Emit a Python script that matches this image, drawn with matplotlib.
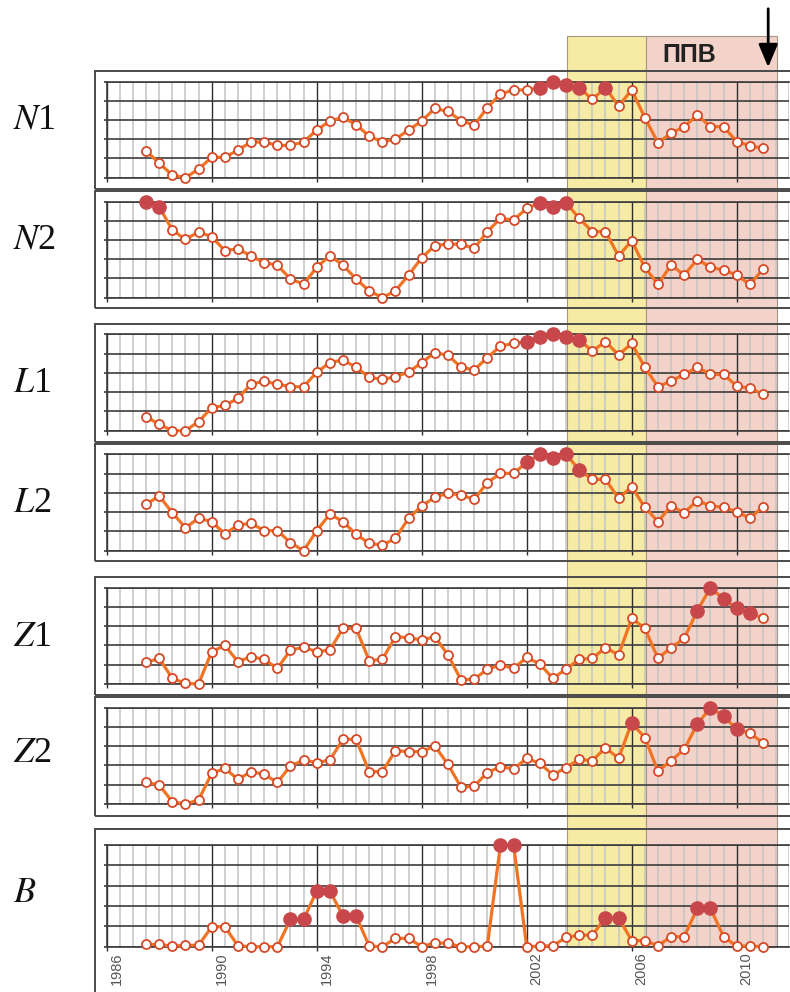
import numpy as np
import matplotlib
matplotlib.use("Agg")
import matplotlib.pyplot as plt
from matplotlib.patches import Rectangle
from matplotlib.transforms import blended_transform_factory, ScaledTranslation

plt.rcParams['mathtext.fontset'] = 'stix'

# half-year points 1987.5 ... 2011.0
years = np.arange(1987.5, 2011.01, 0.5)

n1 = [1.41, 0.75, 0.14, 0.0, 0.45, 1.06, 1.06, 1.44, 1.86, 1.86, 1.68, 1.68, 1.86, 2.48, 2.95, 3.14, 2.76, 2.17, 1.86, 2.01, 2.48, 2.95, 3.61, 3.45,
      2.97, 2.74, 3.65, 4.36, 4.57, 4.57, 4.69, 5.0, 4.83, 4.69, 4.08, 4.69, 3.73, 4.57, 3.13, 1.82, 2.31, 2.66, 3.26, 2.66, 2.66, 1.88, 1.67, 1.53]
n2 = [5.0, 4.74, 3.52, 3.04, 3.42, 3.18, 2.45, 2.55, 2.17, 1.82, 1.70, 0.97, 0.71, 1.58, 2.19, 1.70, 0.97, 0.36, 0.0, 0.36, 1.18, 2.08, 2.71, 2.80,
      2.78, 2.57, 3.44, 4.13, 4.05, 4.65, 4.95, 4.74, 4.95, 4.13, 3.44, 3.44, 2.17, 2.97, 1.58, 0.69, 1.70, 1.18, 2.0, 1.58, 1.44, 1.18, 0.69, 1.48]
l1 = [0.73, 0.33, 0.0, 0.0, 0.47, 1.19, 1.31, 1.68, 2.42, 2.56, 2.42, 2.28, 2.28, 3.03, 3.53, 3.67, 3.29, 2.77, 2.66, 2.80, 3.04, 3.53, 4.05, 3.91,
      3.29, 3.15, 3.79, 4.39, 4.53, 4.62, 4.88, 5.0, 4.88, 4.71, 4.13, 4.62, 3.93, 4.53, 3.29, 2.28, 2.58, 2.92, 3.29, 2.92, 2.92, 2.32, 2.20, 1.90]
l2 = [2.40, 2.84, 1.97, 1.19, 1.68, 1.51, 0.87, 1.33, 1.42, 1.04, 1.04, 0.42, 0.0, 1.04, 1.90, 1.51, 0.85, 0.38, 0.29, 0.64, 1.68, 2.32, 2.77, 2.98,
      2.89, 2.66, 3.53, 4.01, 4.01, 4.58, 5.0, 4.83, 5.0, 4.19, 3.70, 3.70, 2.72, 3.32, 2.25, 1.51, 2.32, 1.97, 2.60, 2.32, 2.25, 2.02, 1.68, 2.28]
z1 = [1.12, 1.33, 0.29, 0.03, 0.0, 1.68, 2.0, 1.16, 1.42, 1.28, 0.81, 1.76, 1.90, 1.68, 1.76, 2.89, 2.89, 1.21, 1.28, 2.46, 2.40, 2.28, 2.46, 1.51,
      0.21, 0.26, 0.76, 0.99, 0.81, 1.38, 1.04, 0.29, 0.78, 1.28, 1.33, 1.89, 1.51, 3.41, 2.89, 1.33, 1.89, 2.37, 3.81, 5.0, 4.41, 3.93, 3.70, 3.41]
z2 = [1.12, 0.99, 0.12, 0.0, 0.21, 1.59, 1.85, 1.28, 1.68, 1.54, 1.12, 1.97, 2.28, 2.15, 2.28, 3.36, 3.36, 1.68, 1.68, 2.77, 2.72, 2.72, 3.01, 2.06,
      0.87, 0.93, 1.63, 1.94, 1.82, 2.37, 2.11, 1.51, 1.89, 2.32, 2.25, 2.92, 2.37, 4.22, 3.44, 1.71, 2.25, 2.84, 4.15, 5.0, 4.57, 3.88, 3.67, 3.18]
b = [0.11, 0.11, 0.03, 0.07, 0.07, 0.98, 0.98, 0.05, 0.0, 0.0, 0.0, 1.34, 1.34, 2.74, 2.74, 1.51, 1.51, 0.03, 0.0, 0.41, 0.41, 0.0, 0.20, 0.16,
     0.0, 0.0, 0.03, 5.0, 5.0, 0.0, 0.03, 0.05, 0.46, 0.57, 0.57, 1.43, 1.43, 0.30, 0.30, 0.05, 0.49, 0.49, 1.89, 1.89, 0.49, 0.03, 0.03, 0.0]

# years drawn with the big filled marker
n1_hi = [2002.5, 2003.0, 2003.5, 2004.0, 2005.0]
n2_hi = [1987.5, 1988.0, 2002.5, 2003.0, 2003.5]
l1_hi = [2002.0, 2002.5, 2003.0, 2003.5, 2004.0]
l2_hi = [2002.0, 2002.5, 2003.0, 2003.5, 2004.0]
z1_hi = [2008.5, 2009.0, 2009.5, 2010.0, 2010.5]
z2_hi = [2006.0, 2008.5, 2009.0, 2009.5, 2010.0]
b_hi = [1993.0, 1993.5, 1994.0, 1994.5, 1995.0, 1995.5, 2001.0, 2001.5, 2005.0, 2005.5, 2008.5, 2009.0]

names = [r'$N$1', r'$N$2', r'$L$1', r'$L$2', r'$Z$1', r'$Z$2', r'$B$']
series = [n1, n2, l1, l2, z1, z2, b]
highs = [n1_hi, n2_hi, l1_hi, l2_hi, z1_hi, z2_hi, b_hi]

yellow_span = (2003.55, 2006.55)
pink_span = (2006.55, 2011.55)
period_label = 'ППВ'

# layout in pixels (top, bottom)
W, H = 790, 992
grid_px = [(81.7, 177.7), (201.7, 297.7), (334.3, 430.7), (454.3, 550.7),
           (587.7, 684.0), (707.7, 804.0), (845.0, 946.7)]
frame_px = [(71, 189.3), (190.7, 308), (324, 442), (443.5, 561),
            (576.7, 695.3), (696.7, 816), (829.3, 1005)]
label_y = [120, 240, 383, 503, 637, 753, 893]

fig = plt.figure(figsize=(W / 100, H / 100), dpi=100)
fig.patch.set_facecolor('white')

line_c = '#f07424'
open_ec = '#d64a28'
fill_c = '#c8474a'

axes = []
for i in range(7):
    top, bot = grid_px[i]
    ax = fig.add_axes([106.7 / W, 1 - bot / H, (789.2 - 106.7) / W, (bot - top) / H])
    ax.set_facecolor('none')
    ax.set_xlim(1986, 2012)
    ax.set_ylim(0, 5)
    ax.set_xticks(np.arange(1986, 2012, 4))
    ax.set_xticks(np.arange(1986, 2012.01, 0.5), minor=True)
    ax.set_yticks(range(6))
    ax.set_axisbelow(True)
    ax.grid(which='minor', axis='x', color='#c4c4c4', lw=1.1)
    ax.grid(which='major', axis='x', color='#2e2e2e', lw=1.0)
    ax.grid(which='major', axis='y', color='#3c3c3c', lw=1.2)
    ax.tick_params(axis='y', length=2.5, width=1.2, color='#3c3c3c', labelleft=False)
    ax.tick_params(axis='x', which='minor', length=0)
    ax.tick_params(axis='x', which='major', length=3, width=1.0, color='#2e2e2e', pad=1)
    for s in ['left', 'top', 'bottom']:
        ax.spines[s].set_color('#3c3c3c')
        ax.spines[s].set_linewidth(1.2)
    ax.spines['right'].set_visible(False)

    vals = np.array(series[i])
    ax.plot(years, vals, color=line_c, lw=2.3, zorder=3, clip_on=False)
    hi = np.isin(years, highs[i])
    ax.plot(years[~hi], vals[~hi], 'o', ms=6.5, mfc='white', mec=open_ec, mew=1.3,
            zorder=4, clip_on=False)
    ax.plot(years[hi], vals[hi], 'o', ms=9.5, color=fill_c, zorder=5, clip_on=False)

    if i < 6:
        ax.tick_params(axis='x', labelbottom=False)
    else:
        ax.set_xticklabels([str(y) for y in range(1986, 2012, 4)])
        off = ScaledTranslation(2 / 72, 0, fig.dpi_scale_trans)
        for lab in ax.get_xticklabels():
            lab.set_rotation(90)
            lab.set_horizontalalignment('left')
            lab.set_verticalalignment('top')
            lab.set_fontsize(10.5)
            lab.set_family('Liberation Sans')
            lab.set_color('#555555')
            lab.set_transform(lab.get_transform() + off)
    axes.append(ax)

    fig.text(13 / W, 1 - label_y[i] / H, names[i], fontsize=26, va='center', ha='left',
             family='Liberation Serif', color='#111111')

# panel frames
for top, bot in frame_px:
    fig.patches.append(Rectangle((95 / W, 1 - bot / H), 720 / W, (bot - top) / H,
                                 transform=fig.transFigure, fill=False,
                                 ec='#4a4a4a', lw=1.4, zorder=0.5))

# highlighted periods, spanning all panels
bt = blended_transform_factory(axes[-1].transData, fig.transFigure)
y0 = 1 - 946.7 / H
y1 = 1 - 36 / H
for (xa, xb), col in [(yellow_span, '#f6eba4'), (pink_span, '#f3d3c9')]:
    fig.patches.append(Rectangle((xa, y0), xb - xa, y1 - y0, transform=bt,
                                 fc=col, ec='#a89684', lw=0.8, zorder=-1))

fig.text(2008.2, 1 - 55 / H, period_label, transform=bt, fontsize=18, fontweight='bold',
         family='Liberation Sans', ha='center', va='center', color='#222222')

fig.patches.append(matplotlib.patches.FancyArrowPatch(
    (2011.2, 1 - 6 / H), (2011.2, 1 - 70 / H), transform=bt,
    arrowstyle='-|>,head_length=1.0,head_width=0.42', mutation_scale=14,
    lw=2.0, color='black', zorder=6))

fig.savefig('out.png', dpi=100, facecolor='white')
